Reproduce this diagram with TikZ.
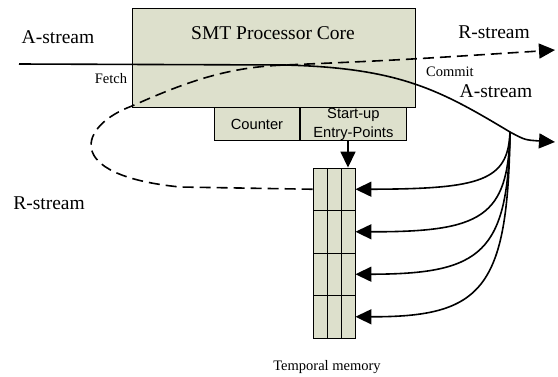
\documentclass[tikz,border=0pt]{standalone}
\usepackage{fontspec}
\setmainfont{Liberation Serif}
\setsansfont{Liberation Sans}
\usetikzlibrary{arrows.meta,positioning}

\definecolor{corefill}{RGB}{221,224,204}
\tikzset{
  unit/.style={draw, fill=corefill, line width=0.9pt, inner sep=0pt},
  cell/.style={draw, fill=corefill, line width=0.9pt, minimum width=14pt, minimum height=42.5pt, inner sep=0pt},
  flow/.style={line width=1.6pt, -{Triangle[length=16pt,width=15pt]}},
  rflow/.style={flow, dash pattern=on 11pt off 6pt},
  big/.style={font=\fontsize{19.5}{22}\selectfont},
  small/.style={font=\fontsize{14.5}{16}\selectfont},
  boxtext/.style={font=\sffamily\fontsize{14.7}{19}\selectfont, align=center}
}

\begin{document}
\begin{tikzpicture}[x=1pt, y=-1pt]
    \useasboundingbox (0,0) rectangle (558,376);

    % processor core and the two units hanging below it
    \node[unit, minimum width=283pt, minimum height=99pt, anchor=north west] (core) at (132,8) {};
    \node[big] (coretitle) at (273,33) {SMT Processor Core};
    \node[unit, boxtext, minimum width=85pt, minimum height=33pt, anchor=north west] (counter) at (214,107) {Counter};
    \node[unit, boxtext, minimum width=106pt, minimum height=33pt, right=0pt of counter] (entry) {Start-up\\Entry-Points};

    % temporal memory, 4 rows of 3 cells
    \foreach \r in {1,...,4}
        \foreach \c in {1,2,3}
            \node[cell] (m\r-\c) at ({306+14*\c}, {146.75+42.5*\r}) {};
    \node[small] (memlabel) at (327,367) {Temporal memory};

    \draw[flow] (entry.south -| m1-3) -- (m1-3.north);

    \coordinate (ain) at (19,64);
    \coordinate (merge) at (285,65);
    \coordinate (split) at (510,132);
    \coordinate (aout) at (555,142);
    \coordinate (rout) at (555,50);

    % A-stream through the core
    \draw[flow] (ain) -- (merge) .. controls (400,68) and (440,90) .. (split) .. controls (525,140) .. (aout);

    % results written back into memory
    \foreach \r/\y in {1/189,2/232,3/274,4/317}
        \draw[flow] (split) .. controls (508,{132+0.85*(\y-132)}) and (482,\y) .. (m\r-3.east);

    % R-stream loop out of memory
    \draw[rflow] (m1-1.west) -- (180,187) .. controls (60,175) and (80,125) .. (132,106)
        .. controls (190,80) and (230,67) .. (merge) .. controls (400,60) .. (rout);

    \node[big] (ainlabel) at (58,37) {A-stream};
    \node[big] (routlabel) at (494,32) {R-stream};
    \node[big] (aoutlabel) at (496,91) {A-stream};
    \node[big] (rinlabel) at (49,203) {R-stream};
    \node[small] (fetch) at (111,79) {Fetch};
    \node[small] (commit) at (450,72) {Commit};
\end{tikzpicture}
\end{document}
